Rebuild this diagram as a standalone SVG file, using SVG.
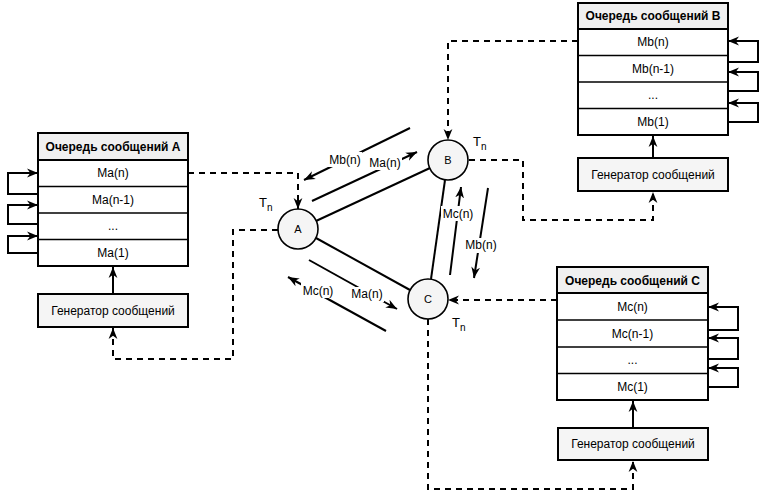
<svg xmlns="http://www.w3.org/2000/svg" width="768" height="500" viewBox="0 0 768 500">
<style>
text{font-family:"Liberation Sans",Arial,sans-serif;fill:#000;text-anchor:middle;dominant-baseline:central}
.box{fill:#fff;stroke:#000;stroke-width:2}
.hdr{fill:#f0f0f0;stroke:#000;stroke-width:2}
.gen{fill:#f5f5f5;stroke:#000;stroke-width:2}
.row{stroke:#000;stroke-width:1.6}
.ht{font-weight:bold;font-size:12px}
.rt{font-size:12px}
.lt{font-size:12px}
.nt{font-size:11px}
.node{fill:#f5f5f5;stroke:#000;stroke-width:1.6}
.ln{fill:none;stroke:#000;stroke-width:2}
.ar{fill:none;stroke:#000;stroke-width:2;marker-end:url(#ah)}
.da{fill:none;stroke:#000;stroke-width:2;stroke-dasharray:6 5;marker-end:url(#ah)}
.bg{fill:#fff}
.tn{font-size:13px;text-anchor:start;dominant-baseline:auto}
.sub{font-size:10px;text-anchor:start;dominant-baseline:auto}
</style>
<defs>
<marker id="ah" viewBox="0 0 10 10" refX="10" refY="5" markerWidth="11" markerHeight="11" markerUnits="userSpaceOnUse" orient="auto">
<path d="M0,1 L10,5 L0,9 L3,5 z" fill="#000"/>
</marker>
</defs>
<rect width="768" height="500" fill="#fff"/>

<g id="connectors">
<!-- loops A -->
<path class="ar" d="M38,194 H8 V173 H38"/>
<path class="ar" d="M38,224 H8 V205 H38"/>
<path class="ar" d="M38,253 H8 V236 H38"/>
<!-- loops B -->
<path class="ar" d="M728,62 H758 V41 H728"/>
<path class="ar" d="M728,91 H758 V72 H728"/>
<path class="ar" d="M728,122 H758 V103 H728"/>
<!-- loops C -->
<path class="ar" d="M708,330 H738 V307 H708"/>
<path class="ar" d="M708,359 H738 V338 H708"/>
<path class="ar" d="M708,387 H738 V368 H708"/>
<!-- generators to queues -->
<path class="ar" d="M113,294 V267"/>
<path class="ar" d="M653,158 V136"/>
<path class="ar" d="M633,428 V401"/>
<!-- dashed -->
<path class="da" d="M188,173 H298 V209"/>
<path class="da" d="M578,41 H448 V140"/>
<path class="da" d="M557,300 H448"/>
<path class="da" d="M278,230 H233 V359 H113 V328"/>
<path class="da" d="M469,160 H523 V220 H653 V192"/>
<path class="da" d="M428,319 V489 H633 V461"/>
<!-- node edges -->
<line class="ln" x1="316" y1="221" x2="430" y2="168"/>
<line class="ln" x1="316" y1="238" x2="410" y2="290"/>
<line class="ln" x1="445" y1="180" x2="431" y2="279"/>
<!-- message arrows -->
<line class="ar" x1="410" y1="128" x2="304" y2="180"/>
<line class="ar" x1="312" y1="201" x2="417" y2="152"/>
<line class="ar" x1="386" y1="331" x2="288" y2="277"/>
<line class="ar" x1="309" y1="260" x2="397" y2="309"/>
<line class="ar" x1="450" y1="275" x2="461" y2="187"/>
<line class="ar" x1="488" y1="188" x2="474" y2="278"/>
<!-- labels -->
<rect class="bg" x="328" y="152" width="34" height="15"/>
<text class="lt" x="345" y="159.5">Mb(n)</text>
<rect class="bg" x="368" y="155" width="34" height="15"/>
<text class="lt" x="385" y="162.5">Ma(n)</text>
<rect class="bg" x="301" y="283" width="34" height="15"/>
<text class="lt" x="318" y="290.5">Mc(n)</text>
<rect class="bg" x="350" y="287" width="34" height="15"/>
<text class="lt" x="367" y="294">Ma(n)</text>
<rect class="bg" x="441" y="206" width="34" height="15"/>
<text class="lt" x="458" y="213.5">Mc(n)</text>
<rect class="bg" x="464" y="238" width="34" height="15"/>
<text class="lt" x="481" y="245">Mb(n)</text>
</g>

<g id="queueA">
<rect class="box" x="38" y="133" width="150" height="133"/>
<rect class="hdr" x="38" y="133" width="150" height="27"/>
<line class="row" x1="38" y1="186.5" x2="188" y2="186.5"/>
<line class="row" x1="38" y1="213" x2="188" y2="213"/>
<line class="row" x1="38" y1="239.5" x2="188" y2="239.5"/>
<text class="ht" x="113" y="147">Очередь сообщений A</text>
<text class="rt" x="113" y="173">Ma(n)</text>
<text class="rt" x="113" y="199.5">Ma(n-1)</text>
<text class="rt" x="113" y="226">...</text>
<text class="rt" x="113" y="253">Ma(1)</text>
</g>

<g id="queueB">
<rect class="box" x="578" y="3" width="150" height="132"/>
<rect class="hdr" x="578" y="3" width="150" height="26"/>
<line class="row" x1="578" y1="55.5" x2="728" y2="55.5"/>
<line class="row" x1="578" y1="82" x2="728" y2="82"/>
<line class="row" x1="578" y1="108.5" x2="728" y2="108.5"/>
<text class="ht" x="653" y="16">Очередь сообщений B</text>
<text class="rt" x="653" y="42">Mb(n)</text>
<text class="rt" x="653" y="68.5">Mb(n-1)</text>
<text class="rt" x="653" y="95">...</text>
<text class="rt" x="653" y="121.5">Mb(1)</text>
</g>

<g id="queueC">
<rect class="box" x="557" y="267" width="151" height="133"/>
<rect class="hdr" x="557" y="267" width="151" height="26"/>
<line class="row" x1="557" y1="320" x2="708" y2="320"/>
<line class="row" x1="557" y1="347" x2="708" y2="347"/>
<line class="row" x1="557" y1="373.5" x2="708" y2="373.5"/>
<text class="ht" x="632.5" y="280.5">Очередь сообщений C</text>
<text class="rt" x="632.5" y="306.5">Mc(n)</text>
<text class="rt" x="632.5" y="333.5">Mc(n-1)</text>
<text class="rt" x="632.5" y="360">...</text>
<text class="rt" x="632.5" y="387">Mc(1)</text>
</g>

<g id="genA">
<rect class="gen" x="38" y="294" width="150" height="33"/>
<text class="rt" x="113" y="310.5">Генератор сообщений</text>
</g>
<g id="genB">
<rect class="gen" x="578" y="158" width="150" height="33"/>
<text class="rt" x="653" y="174.5">Генератор сообщений</text>
</g>
<g id="genC">
<rect class="gen" x="558" y="428" width="150" height="32"/>
<text class="rt" x="633" y="444">Генератор сообщений</text>
</g>

<g id="nodeA">
<circle class="node" cx="298" cy="229" r="20"/>
<text class="nt" x="298" y="229">A</text>
<text class="tn" x="259" y="207">T</text><text class="sub" x="267" y="211">n</text>
</g>
<g id="nodeB">
<circle class="node" cx="448" cy="160" r="20"/>
<text class="nt" x="448" y="160">B</text>
<text class="tn" x="473" y="146">T</text><text class="sub" x="481" y="150">n</text>
</g>
<g id="nodeC">
<circle class="node" cx="428" cy="299" r="20"/>
<text class="nt" x="428" y="299">C</text>
<text class="tn" x="452" y="327">T</text><text class="sub" x="460" y="331">n</text>
</g>
</svg>
